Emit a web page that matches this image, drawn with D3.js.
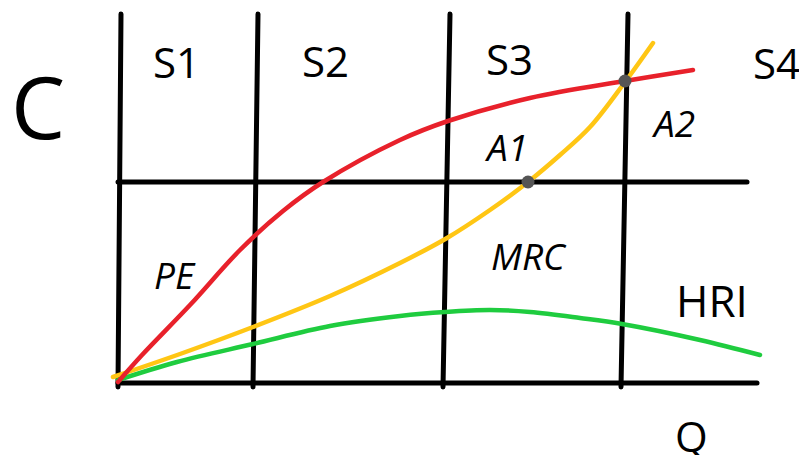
<!DOCTYPE html>
<html>
<head>
<meta charset="utf-8">
<script src="https://cdn.jsdelivr.net/npm/d3@7"></script>
<style>
  body { margin: 0; background: #fff; }
  svg { display: block; }
  text { font-family: 'Open Sans', 'Noto Sans', sans-serif; fill: #000; }
</style>
</head>
<body>
<svg width="799" height="455"></svg>
<script>
// curves, Q against C (arbitrary units)
var peQ  = [0, 2.4, 7.2, 12.2, 16.5, 20.5, 28.2, 33, 41.2, 50.7, 57.5]
var peC  = [0.1, 2.8, 7.8, 13.3, 17.2, 20.1, 24.3, 26.2, 28.5, 30.2, 31.3]
var mrcQ = [-0.5, 6.2, 13.5, 21.2, 28.2, 32.9, 37.2, 41, 44.2, 47.2, 50.7, 53.5]
var mrcC = [0.6, 2.9, 5.6, 8.7, 12, 14.5, 17.3, 20.1, 22.8, 25.6, 30.1, 34]
var hriQ = [0, 5.9, 13.5, 21.2, 28.2, 32.7, 37.2, 41.2, 46.2, 50.4, 58.2, 64.2]
var hriC = [0.3, 2.1, 3.9, 5.7, 6.7, 7.1, 7.3, 7.1, 6.5, 5.9, 4.3, 2.8]

// stage dividers (Q at top and at bottom), threshold level, marked points
var dividerTop    = [0.3, 14, 33.2, 51]
var dividerBottom = [0, 13.5, 32.5, 50.3]
var thresholdC = 20.1
var dotQ = [41, 50.7]
var dotC = [20.1, 30.2]
var stageLabels = ['S1', 'S2', 'S3', 'S4']

var svg = d3.select('svg')
var x = d3.scaleLinear().domain([0, 64]).range([118, 758])
var y = d3.scaleLinear().domain([0, 36.9]).range([383, 14])

var zip = (qs, cs) => qs.map((q, i) => [q, cs[i]])
var line = d3.line()
  .x(d => x(d[0]))
  .y(d => y(d[1]))
  .curve(d3.curveCatmullRom.alpha(0.5))

// black frame lines
var black = svg.append('g')
  .attr('stroke', '#000')
  .attr('stroke-width', 5)
  .attr('stroke-linecap', 'round')

black.selectAll('line.div').data(dividerTop).enter().append('line')
  .attr('class', 'div')
  .attr('x1', d => x(d))
  .attr('y1', y(36.9))
  .attr('x2', (d, i) => x(dividerBottom[i]))
  .attr('y2', y(-0.4))

black.append('line')
  .attr('x1', x(0)).attr('y1', y(0))
  .attr('x2', x(63.9)).attr('y2', y(0))

black.append('line')
  .attr('x1', x(0)).attr('y1', y(thresholdC))
  .attr('x2', x(62.9)).attr('y2', y(thresholdC))

// curves
var curves = [
  {pts: zip(hriQ, hriC), color: '#1fcc3f'},
  {pts: zip(mrcQ, mrcC), color: '#ffc614'},
  {pts: zip(peQ, peC), color: '#e8212b'}
]
svg.append('g').selectAll('path').data(curves).enter().append('path')
  .attr('d', d => line(d.pts))
  .attr('fill', 'none')
  .attr('stroke', d => d.color)
  .attr('stroke-width', 4.5)
  .attr('stroke-linecap', 'round')

svg.append('g').selectAll('circle').data(dotQ).enter().append('circle')
  .attr('cx', d => x(d))
  .attr('cy', (d, i) => y(dotC[i]))
  .attr('r', 6.5)
  .attr('fill', '#555')

// labels
var stagePos = [[153, 78], [302, 77], [486, 75], [753, 79]]
svg.append('g').selectAll('text').data(stageLabels).enter().append('text')
  .attr('x', (d, i) => stagePos[i][0])
  .attr('y', (d, i) => stagePos[i][1])
  .attr('font-size', 42)
  .text(d => d)

svg.append('text').attr('x', 11).attr('y', 139).attr('font-size', 86).text('C')
svg.append('text').attr('x', 675).attr('y', 452).attr('font-size', 42).text('Q')
svg.append('text').attr('x', 676).attr('y', 317).attr('font-size', 44).text('HRI')

var italics = [['A1', 487, 161], ['A2', 654, 137], ['PE', 154, 289], ['MRC', 491, 270]]
svg.append('g').selectAll('text').data(italics).enter().append('text')
  .attr('x', d => d[1])
  .attr('y', d => d[2])
  .attr('font-size', 37)
  .attr('font-style', 'italic')
  .text(d => d[0])
</script>
</body>
</html>
